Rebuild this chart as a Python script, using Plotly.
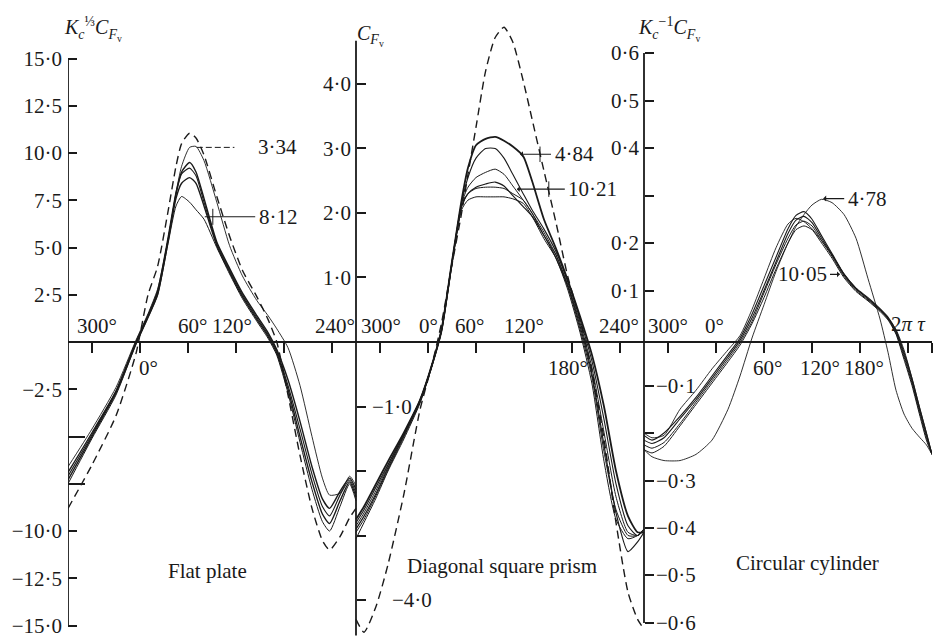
import plotly.graph_objects as go

# ---------------- data (phase in degrees within each panel) ----------
PHASE_FLAT = [-90, -60, -30, -5, 10, 22, 35, 45, 52, 62, 70, 80, 96, 112, 128, 146, 160, 171, 185, 200, 215, 228, 237, 250, 262, 270]
FLAT_DASHED = [-8.8, -6.5, -3.9, -0.6, 2.5, 4.0, 6.9, 9.3, 10.5, 11.05, 10.8, 9.9, 7.7, 5.6, 3.8, 2.4, 1.2, 0.0, -2.8, -6.0, -8.8, -10.5, -11.0, -10.3, -9.3, -8.8]
FLAT_334 = [-6.6, -4.6, -2.4, 0.1, 1.5, 2.8, 5.4, 7.9, 9.3, 10.3, 10.35, 9.6, 7.4, 5.1, 3.5, 2.2, 1.4, 0.7, -0.3, -2.3, -5.0, -7.2, -8.1, -8.0, -7.1, -7.6]
FLAT_B = [-6.9, -4.8, -2.6, 0.0, 1.4, 2.7, 5.5, 7.9, 9.0, 9.5, 9.0, 7.6, 5.3, 3.9, 2.6, 1.4, 0.5, -0.4, -2.0, -4.2, -6.6, -8.3, -8.8, -7.9, -7.2, -7.8]
FLAT_C = [-7.1, -4.9, -2.6, 0.0, 1.4, 2.6, 5.4, 7.8, 8.9, 9.2, 8.8, 7.4, 5.2, 3.8, 2.5, 1.3, 0.4, -0.5, -2.3, -4.6, -7.0, -8.7, -9.2, -8.1, -7.3, -8.0]
FLAT_D = [-7.3, -5.0, -2.7, -0.1, 1.3, 2.5, 5.3, 7.6, 8.4, 8.7, 8.4, 7.2, 5.1, 3.7, 2.4, 1.2, 0.3, -0.6, -2.5, -5.0, -7.4, -9.1, -9.6, -8.4, -7.4, -8.2]
FLAT_812 = [-7.5, -5.1, -2.8, -0.1, 1.3, 2.5, 5.2, 7.2, 7.7, 7.4, 7.0, 6.5, 5.0, 3.6, 2.3, 1.1, 0.2, -0.7, -2.7, -5.3, -7.8, -9.5, -10.0, -8.7, -7.5, -8.4]

PHASE_PRISM = [-90, -80, -65, -50, -30, -10, 5, 17, 30, 42, 50, 60, 72, 84, 95, 106, 119, 130, 145, 160, 175, 190, 205, 220, 235, 250, 262, 270]
PRISM_DASHED = [-4.3, -4.5, -4.1, -3.45, -2.35, -1.05, -0.35, 0.3, 1.2, 2.0, 2.6, 3.33, 4.2, 4.72, 4.88, 4.65, 4.05, 3.46, 2.65, 1.85, 1.0, 0.35, -0.45, -1.5, -2.8, -3.88, -4.3, -4.45]
PRISM_484 = [-2.75, -2.55, -2.2, -1.85, -1.4, -0.9, -0.35, 0.2, 1.25, 2.2, 2.7, 3.05, 3.15, 3.18, 3.12, 3.03, 2.88, 2.5, 1.9, 1.45, 0.95, 0.4, -0.2, -1.0, -2.0, -2.7, -2.95, -2.95]
PRISM_B = [-2.8, -2.6, -2.25, -1.9, -1.42, -0.9, -0.35, 0.2, 1.25, 2.15, 2.55, 2.85, 3.0, 3.0, 2.85, 2.6, 2.3, 2.05, 1.75, 1.4, 0.92, 0.35, -0.3, -1.2, -2.2, -2.85, -3.0, -2.9]
PRISM_C = [-2.85, -2.65, -2.3, -1.92, -1.43, -0.9, -0.35, 0.2, 1.25, 2.15, 2.4, 2.55, 2.63, 2.68, 2.6, 2.42, 2.2, 2.0, 1.7, 1.35, 0.88, 0.3, -0.4, -1.4, -2.4, -2.95, -3.0, -2.9]
PRISM_D = [-2.9, -2.7, -2.35, -1.95, -1.45, -0.92, -0.36, 0.18, 1.22, 2.1, 2.3, 2.4, 2.45, 2.48, 2.42, 2.27, 2.1, 1.95, 1.65, 1.3, 0.85, 0.25, -0.5, -1.6, -2.65, -3.25, -3.1, -2.95]
PRISM_1021 = [-2.95, -2.75, -2.38, -1.98, -1.47, -0.93, -0.37, 0.18, 1.22, 2.1, 2.3, 2.38, 2.4, 2.4, 2.38, 2.3, 2.2, 2.0, 1.65, 1.35, 0.85, 0.2, -0.55, -1.7, -2.6, -3.0, -3.0, -2.9]
PRISM_F = [-3.05, -2.8, -2.42, -2.0, -1.5, -0.95, -0.38, 0.15, 1.2, 2.05, 2.2, 2.25, 2.25, 2.25, 2.25, 2.22, 2.15, 1.95, 1.6, 1.3, 0.8, 0.15, -0.65, -1.85, -2.75, -3.05, -3.0, -2.9]

PHASE_CYL = [-90, -80, -65, -45, -25, -5, 15, 30, 45, 60, 75, 90, 100, 110, 120, 132, 145, 160, 175, 190, 205, 215, 225, 235, 245, 255, 263, 270]
CYL_478 = [-0.235, -0.25, -0.258, -0.258, -0.245, -0.215, -0.15, -0.08, 0.0, 0.07, 0.14, 0.2, 0.235, 0.26, 0.28, 0.292, 0.285, 0.26, 0.21, 0.125, 0.04, -0.03, -0.11, -0.16, -0.19, -0.21, -0.225, -0.245]
CYL_EARLY = [-0.2, -0.21, -0.205, -0.15, -0.11, -0.065, -0.025, 0.005, 0.06, 0.125, 0.19, 0.24, 0.252, 0.245, 0.23, 0.205, 0.175, 0.135, 0.105, 0.082, 0.06, 0.042, 0.018, -0.025, -0.085, -0.15, -0.2, -0.245]
CYL_A = [-0.205, -0.215, -0.2, -0.165, -0.125, -0.08, -0.035, 0.0, 0.05, 0.11, 0.17, 0.23, 0.258, 0.266, 0.25, 0.215, 0.178, 0.135, 0.105, 0.085, 0.062, 0.044, 0.016, -0.03, -0.085, -0.15, -0.2, -0.245]
CYL_B = [-0.215, -0.222, -0.21, -0.17, -0.13, -0.085, -0.04, -0.005, 0.042, 0.1, 0.16, 0.22, 0.248, 0.256, 0.243, 0.21, 0.175, 0.133, 0.103, 0.083, 0.06, 0.042, 0.013, -0.035, -0.09, -0.155, -0.205, -0.245]
CYL_C = [-0.225, -0.232, -0.22, -0.18, -0.135, -0.09, -0.045, -0.01, 0.035, 0.095, 0.155, 0.21, 0.238, 0.246, 0.236, 0.205, 0.172, 0.13, 0.1, 0.08, 0.058, 0.04, 0.01, -0.04, -0.095, -0.16, -0.21, -0.245]
CYL_D = [-0.235, -0.242, -0.228, -0.185, -0.14, -0.095, -0.05, -0.015, 0.03, 0.085, 0.145, 0.2, 0.228, 0.236, 0.228, 0.2, 0.168, 0.127, 0.098, 0.078, 0.056, 0.038, 0.008, -0.045, -0.1, -0.165, -0.215, -0.245]

# tick values / labels
FLAT_TICKS = [-15, -12.5, -10, -2.5, 2.5, 5, 7.5, 10, 12.5, 15]
FLAT_TICKTEXT = ["−15·0", "−12·5", "−10·0", "−2·5", "2·5", "5·0", "7·5", "10·0", "12·5", "15·0"]
FLAT_MINOR = [-7.5, -5]
PRISM_TICKS = [1, 2, 3, 4]
PRISM_TICKTEXT = ["1·0", "2·0", "3·0", "4·0"]
PRISM_MINOR = [-4, -3, -2, -1]
PRISM_NEG_LABELS = [(-1, "−1·0"), (-4, "−4·0")]
CYL_TICKS = [0.1, 0.2, 0.4, 0.5, 0.6]
CYL_TICKTEXT = ["0·1", "0·2", "0·4", "0·5", "0·6"]
CYL_MINOR = [-0.6, -0.5, -0.4, -0.3, -0.2, -0.1, 0.3]
CYL_NEG_LABELS = [(-0.1, "−0·1"), (-0.3, "−0·3"), (-0.4, "−0·4"), (-0.5, "−0·5"), (-0.6, "−0·6")]

PHASE_TICKS = [30 + 60 * k for k in range(18)] + [1080]

INK = "#1a1a1a"
FONT = "Liberation Serif"
FS = 21


def to_u(panel, phases):
    return [panel * 360 + p + 90 for p in phases]


fig = go.Figure()


def add_curve(panel, phases, vals, axis, width=1.1, dash=None):
    fig.add_trace(go.Scatter(
        x=to_u(panel, phases), y=vals, yaxis=axis, mode="lines",
        line=dict(color=INK, width=width, shape="spline", smoothing=0.6,
                  dash=dash if dash else "solid"),
        showlegend=False, hoverinfo="skip"))


DASH = "8px,5px"
add_curve(0, PHASE_FLAT, FLAT_DASHED, "y", 1.4, DASH)
add_curve(0, PHASE_FLAT, FLAT_334, "y", 0.9)
add_curve(0, PHASE_FLAT, FLAT_B, "y", 1.4)
add_curve(0, PHASE_FLAT, FLAT_C, "y", 1.1)
add_curve(0, PHASE_FLAT, FLAT_D, "y", 1.4)
add_curve(0, PHASE_FLAT, FLAT_812, "y", 1.0)

add_curve(1, PHASE_PRISM, PRISM_DASHED, "y2", 1.4, DASH)
add_curve(1, PHASE_PRISM, PRISM_484, "y2", 1.8)
add_curve(1, PHASE_PRISM, PRISM_B, "y2", 1.1)
add_curve(1, PHASE_PRISM, PRISM_C, "y2", 1.0)
add_curve(1, PHASE_PRISM, PRISM_D, "y2", 1.2)
add_curve(1, PHASE_PRISM, PRISM_1021, "y2", 1.0)
add_curve(1, PHASE_PRISM, PRISM_F, "y2", 1.0)

add_curve(2, PHASE_CYL, CYL_478, "y3", 0.9)
add_curve(2, PHASE_CYL, CYL_EARLY, "y3", 0.9)
add_curve(2, PHASE_CYL, CYL_A, "y3", 1.1)
add_curve(2, PHASE_CYL, CYL_B, "y3", 1.1)
add_curve(2, PHASE_CYL, CYL_C, "y3", 1.0)
add_curve(2, PHASE_CYL, CYL_D, "y3", 1.0)

tickfont = dict(family=FONT, size=FS, color=INK)


def yax(rng, vals, texts, minor_vals, minor_len=9, **extra):
    d = dict(range=rng, showgrid=False, zeroline=False, showline=False, ticks="inside",
             ticklen=9, tickwidth=1.5, tickcolor=INK, tickfont=tickfont,
             tickmode="array", tickvals=vals, ticktext=texts, fixedrange=True,
             automargin=False, ticklabelstandoff=5,
             minor=dict(tickmode="array", tickvals=minor_vals, ticks="inside",
                        ticklen=minor_len, tickwidth=1.5, tickcolor=INK, showgrid=False))
    d.update(extra)
    return d


# y ranges chosen so that zero lies on the common horizontal axis
FLAT_RANGE = [-15.66, 17.04]
PRISM_RANGE = [-4.589, 4.992]
CYL_RANGE = [-0.6316, 0.6695]
zero_frac = -FLAT_RANGE[0] / (FLAT_RANGE[1] - FLAT_RANGE[0])

fig.update_layout(
    width=943, height=640,
    margin=dict(l=68, r=11, t=20, b=2, autoexpand=False),
    paper_bgcolor="white", plot_bgcolor="white",
    font=dict(family=FONT, color=INK, size=FS),
    xaxis=dict(range=[0, 1080], showgrid=False, zeroline=False, showline=True,
               linecolor=INK, linewidth=1.6, anchor="free", position=zero_frac,
               ticks="outside", ticklen=10, tickwidth=1.5, tickcolor=INK, automargin=False,
               tickmode="array", tickvals=PHASE_TICKS, showticklabels=False, fixedrange=True),
    yaxis=yax(FLAT_RANGE, FLAT_TICKS, FLAT_TICKTEXT, FLAT_MINOR, 17),
    yaxis2=yax(PRISM_RANGE, PRISM_TICKS, PRISM_TICKTEXT, PRISM_MINOR, 9,
               overlaying="y", anchor="free", position=1 / 3, side="left"),
    yaxis3=yax(CYL_RANGE, CYL_TICKS, CYL_TICKTEXT, CYL_MINOR, 9,
               overlaying="y", anchor="free", position=2 / 3, side="left"),
)

# vertical axis lines and leader lines
shapes = [
    dict(type="line", xref="x", yref="y", x0=0, x1=0, y0=-15, y1=15, line=dict(color=INK, width=1.8)),
    dict(type="line", xref="x", yref="y2", x0=360, x1=360, y0=-4.55, y1=4.67, line=dict(color=INK, width=1.8)),
    dict(type="line", xref="x", yref="y3", x0=720, x1=720, y0=-0.6, y1=0.6, line=dict(color=INK, width=1.8)),
    dict(type="line", xref="x", yref="y", x0=161, x1=208, y0=10.3, y1=10.3, line=dict(color=INK, width=1, dash="6px,3px")),
    dict(type="line", xref="x", yref="y", x0=171, x1=234, y0=6.63, y1=6.63, line=dict(color=INK, width=1.1)),
    dict(type="line", xref="x", yref="y", x0=181, x1=181, y0=6.2, y1=7.05, line=dict(color=INK, width=1)),
    dict(type="line", xref="x", yref="y2", x0=590, x1=590, y0=2.79, y1=3.03, line=dict(color=INK, width=1)),
    dict(type="line", xref="x", yref="y2", x0=601, x1=601, y0=2.25, y1=2.49, line=dict(color=INK, width=1)),
]
fig.update_layout(shapes=shapes)

ann = []


def text(x, y, s, yref="y", size=FS, xanchor="center", yanchor="middle", xshift=0):
    ann.append(dict(x=x, y=y, xref="x", yref=yref, text=s, showarrow=False,
                    font=dict(family=FONT, size=size, color=INK),
                    xanchor=xanchor, yanchor=yanchor, xshift=xshift))


def arrow_label(x, y, s, yref, ax):
    ann.append(dict(x=x, y=y, xref="x", yref=yref, text=s, showarrow=True,
                    ax=ax, ay=0, arrowhead=1, arrowsize=0.9, arrowwidth=1.1,
                    arrowcolor=INK, standoff=0, startstandoff=2,
                    font=dict(family=FONT, size=FS, color=INK)))


# phase labels (placed on flat-plate scale)
for u, s in [(36, "300°"), (155, "60°"), (205, "120°"), (334, "240°"),
             (391, "300°"), (450, "0°"), (502, "60°"), (570, "120°"), (689, "240°"),
             (750, "300°"), (808, "0°")]:
    text(u, 0.85, s)
text(1050, 0.95, "2<i>π</i> <i>τ</i>")
for u, s in [(100, "0°"), (625, "180°"), (874, "60°"), (940, "120°"), (995, "180°")]:
    text(u, -1.35, s)

# negative labels on the right of middle and right axes
for v, s in PRISM_NEG_LABELS:
    text(378 if v == -1 else 402, v, s, yref="y2", xanchor="left")
for v, s in CYL_NEG_LABELS:
    text(732, v, s, yref="y3", xanchor="left")

# curve labels
text(262, 10.3, "3·34")
text(263, 6.63, "8·12")
arrow_label(565, 2.91, "4·84", "y2", 54)
arrow_label(561, 2.37, "10·21", "y2", 76)
arrow_label(944, 0.2935, "4·78", "y3", 44)
arrow_label(965, 0.134, "10·05", "y3", -38)

# panel names
text(174, -12.1, "Flat plate")
text(542, -11.84, "Diagonal square prism")
text(924, -11.68, "Circular cylinder")

# axis titles
text(0, 16.55, "<i>K</i><sub><i>c</i></sub><sup>⅓</sup><i>C</i><sub><i>F</i><sub>v</sub></sub>",
     size=20, xanchor="left", xshift=-6)
text(359, 16.2, "<i>C</i><sub><i>F</i><sub>v</sub></sub>", size=20, xanchor="left")
text(710, 16.55, "<i>K</i><sub><i>c</i></sub><sup>−1</sup><i>C</i><sub><i>F</i><sub>v</sub></sub>", size=20, xanchor="left")

fig.update_layout(annotations=ann)

fig.write_html("out.html", config={"displayModeBar": False},
               post_script="document.body.style.margin='0px';document.body.style.overflow='hidden';")
